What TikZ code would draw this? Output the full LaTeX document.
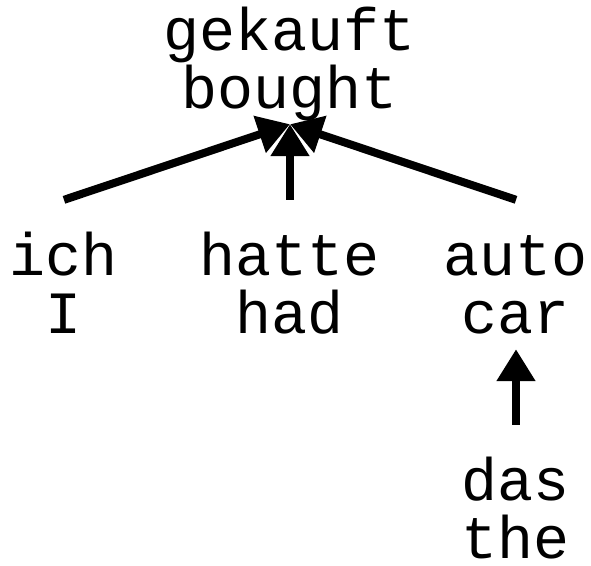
\documentclass[tikz,border=0pt]{standalone}
\usepackage{fontspec}
\setmonofont{Liberation Mono}
\usetikzlibrary{arrows.meta}

\begin{document}
\begin{tikzpicture}[x=1pt,y=1pt,level distance=225pt,sibling distance=226pt,
        >={Triangle[length=32pt,width=37pt]},
        edge from parent/.style={draw,<-,line width=8pt},
        edge from parent path={(\tikzparentnode.south) -- ([yshift=35pt]\tikzchildnode.north)}]
      \tikzstyle{word} = [font=\ttfamily\fontsize{60}{58}\selectfont,color=black,
        align=center,inner sep=0pt,text height=98pt,text depth=16pt]
      \useasboundingbox (0,0) rectangle (591,-565);
      \node (gekauft) [word] at (290,-67) {gekauft\\bought}
        child {node (ich) [word] {ich\\I}}
        child {node (hatte) [word] {hatte\\had}}
        child {node (auto) [word] {auto\\car}
        {
          child {node (das) [word] {das\\the}}
        } }
      ;
    \end{tikzpicture}
\end{document}
